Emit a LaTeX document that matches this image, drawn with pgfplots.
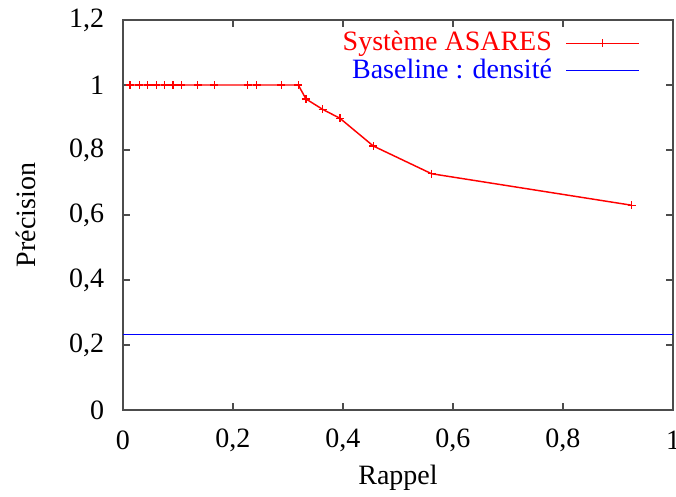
\documentclass[border=0pt]{standalone}
\usepackage{pgfplots}
\pgfplotsset{compat=1.18}
\usepackage{fontspec}
\setmainfont{Liberation Serif}
\begin{document}
\fontsize{21}{25}\selectfont
\begin{tikzpicture}
\begin{axis}[name=ax,
  scale only axis, width=412.5pt, height=292.5pt,
  xmin=0, xmax=1, ymin=0, ymax=1.2,
  xtick={0,0.2,0.4,0.6,0.8,1}, ytick={0,0.2,0.4,0.6,0.8,1,1.2},
  tick align=inside, major tick length=5pt,
  axis line style={black!70, line width=0.8pt},
  tick style={black!70, line width=0.8pt},
  /pgf/number format/.cd, use comma, fixed, precision=1, assume math mode=true,
  /pgfplots/.cd,
  xticklabel style={anchor=center, inner sep=0pt, yshift=-22.5pt},
  yticklabel style={anchor=east, inner sep=0pt, xshift=-14pt},
  xlabel={Rappel}, ylabel={Précision},
  xlabel style={at={(axis description cs:0.5,-0.174)}, anchor=center},
  ylabel style={at={(axis description cs:-0.176,0.5)}, anchor=center},
  legend style={draw=none, fill=none, at={(axis description cs:0.947,0.985)}, anchor=north east,
    row sep=-1pt, column sep=8pt, font=\fontsize{21}{25}\selectfont},
  legend cell align=right, legend plot pos=right,
  legend image post style={xscale=3.2},
]
\addplot[color=red, line width=1.1pt, mark=+, mark size=3pt, mark options={line width=0.9pt}] coordinates {
(0.0127,1) (0.0297,1) (0.045,1) (0.0606,1) (0.076,1) (0.091,1) (0.106,1) (0.136,1) (0.166,1)
(0.2267,1) (0.243,1) (0.288,1) (0.3187,1)
(0.3327,0.957) (0.3631,0.925) (0.3945,0.8975) (0.4551,0.8123) (0.561,0.727) (0.925,0.630)
};
\addlegendentry{\textcolor{red}{Système ASARES}}
\addplot[color=blue, line width=0.7pt] coordinates {(0,0.232) (1,0.232)};
\addlegendentry{\textcolor{blue}{Baseline : densité}}
\end{axis}
\pgfresetboundingbox
\path[use as bounding box] ([shift={(-92.25pt,-65.25pt)}]ax.south west) rectangle ([shift={(2.25pt,15pt)}]ax.north east);
\end{tikzpicture}
\end{document}
